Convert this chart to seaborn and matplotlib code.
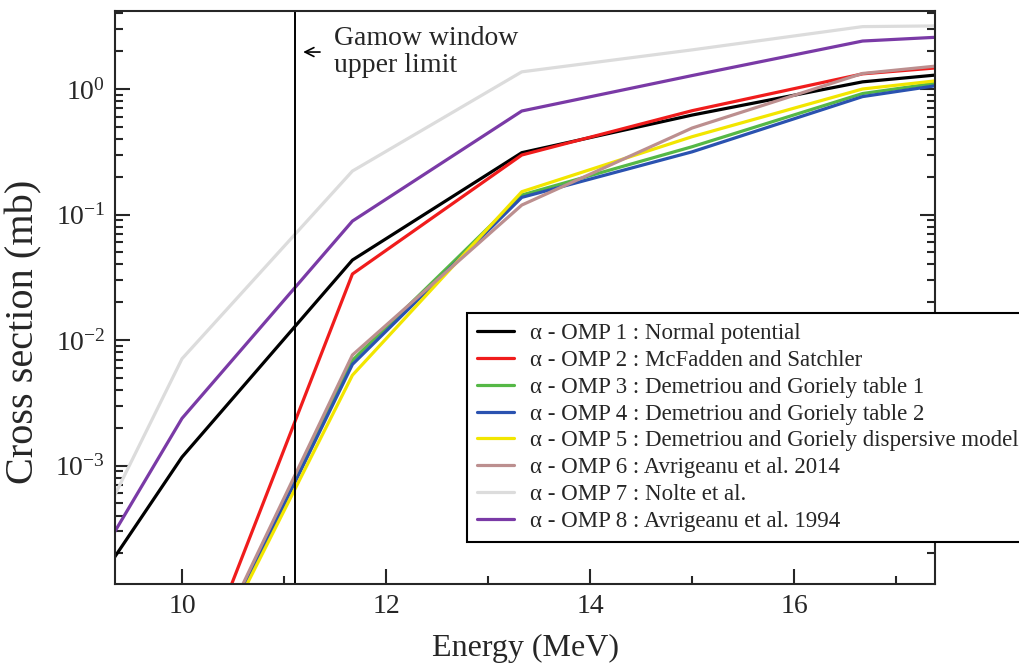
import numpy as np
import pandas as pd
import matplotlib
matplotlib.use('Agg')
import matplotlib.pyplot as plt
import seaborn as sns
from matplotlib.ticker import LogLocator, MultipleLocator, LogFormatterMathtext, NullFormatter

# energies (MeV) where the curves are sampled (first/last at the frame edges)
energy = [9.34, 10.0, 11.67, 13.33, 15.0, 16.67, 17.38]

# cross sections (mb)
omp1 = [1.87e-4, 1.17e-3, 0.0434, 0.311, 0.62, 1.14, 1.29]
omp2 = [1.5e-6, 1.1e-5, 0.0336, 0.298, 0.672, 1.32, 1.47]
omp3 = [1.2e-6, 1.05e-5, 6.9e-3, 0.143, 0.347, 0.92, 1.11]
omp4 = [1.2e-6, 1.05e-5, 6.4e-3, 0.137, 0.316, 0.87, 1.06]
omp5 = [1.2e-6, 1.07e-5, 5.25e-3, 0.152, 0.417, 1.0, 1.16]
omp6 = [1.2e-6, 1.1e-5, 7.6e-3, 0.119, 0.489, 1.33, 1.52]
omp7 = [5.8e-4, 7.1e-3, 0.222, 1.37, 2.05, 3.14, 3.18]
omp8 = [2.97e-4, 2.38e-3, 0.0887, 0.668, 1.28, 2.41, 2.58]

labels = [
    "α - OMP 1 : Normal potential",
    "α - OMP 2 : McFadden and Satchler",
    "α - OMP 3 : Demetriou and Goriely table 1",
    "α - OMP 4 : Demetriou and Goriely table 2",
    "α - OMP 5 : Demetriou and Goriely dispersive model",
    "α - OMP 6 : Avrigeanu et al. 2014",
    "α - OMP 7 : Nolte et al.",
    "α - OMP 8 : Avrigeanu et al. 1994",
]
colors = ["#000000", "#f01c1c", "#55b846", "#2a52b0", "#f2e600",
          "#bc8f8f", "#dcdcdc", "#7a3aa6"]

gamow_limit = 11.11

sns.set_style("ticks")
plt.rcParams['font.family'] = ['Liberation Serif', 'DejaVu Serif']
plt.rcParams['mathtext.fontset'] = 'custom'
plt.rcParams['mathtext.rm'] = 'Liberation Serif'
plt.rcParams['mathtext.it'] = 'Liberation Serif:italic'
plt.rcParams['mathtext.default'] = 'regular'
plt.rcParams['axes.unicode_minus'] = False

series = [omp1, omp2, omp3, omp4, omp5, omp6, omp7, omp8]
rows = []
for lab, vals in zip(labels, series):
    for e, v in zip(energy, vals):
        rows.append({"energy": e, "xs": v, "model": lab})
df = pd.DataFrame(rows)

fig = plt.figure(figsize=(10.19, 6.64), dpi=100)
ax = fig.add_axes([115/1019, 1-584/664, 820/1019, 573.5/664])

sns.lineplot(data=df, x="energy", y="xs", hue="model", hue_order=labels,
             palette=dict(zip(labels, colors)), estimator=None, sort=False,
             linewidth=2.3, ax=ax)

ax.axvline(gamow_limit, color='black', lw=1.4)

ax.set_yscale('log')
ax.set_xlim(9.343, 17.38)
ax.set_ylim(1.14e-4, 4.22)

ax.xaxis.set_major_locator(MultipleLocator(2))
ax.xaxis.set_minor_locator(MultipleLocator(1))
ax.yaxis.set_major_locator(LogLocator(base=10, numticks=10))
ax.yaxis.set_minor_locator(LogLocator(base=10, subs=np.arange(2, 10), numticks=20))
ax.yaxis.set_major_formatter(LogFormatterMathtext())
ax.yaxis.set_minor_formatter(NullFormatter())

ax.tick_params(which='both', direction='in', top=False, right=True, width=1.5)
ax.tick_params(which='major', length=11, labelsize=20, pad=7)
ax.tick_params(which='minor', length=6)
for sp in ax.spines.values():
    sp.set_linewidth(1.5)
    sp.set_visible(True)

ax.set_xlabel("Energy (MeV)", fontsize=23)
ax.set_ylabel("Cross section (mb)", fontsize=29)
ax.xaxis.set_label_coords(0.5, -0.087)
ax.yaxis.set_label_coords(-0.088, 0.44)

ax.annotate('', xy=(11.16, 1.97), xytext=(11.38, 1.97),
            arrowprops=dict(arrowstyle='->', color='black', lw=1.2,
                            mutation_scale=16))
ax.text(11.49, 1.97, "Gamow window\nupper limit", fontsize=20,
        va='center', ha='left', linespacing=1.08)

leg = ax.legend(loc='upper left', bbox_to_anchor=(467/1019, 1-313/664),
                bbox_transform=fig.transFigure, fontsize=16.5, frameon=True,
                fancybox=False, edgecolor='black', framealpha=1,
                handlelength=1.6, handletextpad=0.7, labelspacing=0.25,
                borderpad=0.45, borderaxespad=0)
leg.get_frame().set_linewidth(1.5)
for line in leg.get_lines():
    line.set_linewidth(2.3)

fig.savefig("out.png", dpi=100)
